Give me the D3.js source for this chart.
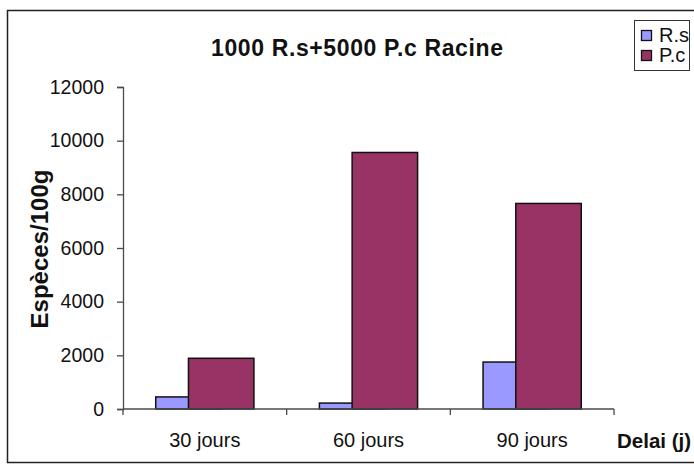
<!DOCTYPE html>
<html>
<head>
<meta charset="utf-8">
<script src="https://cdn.jsdelivr.net/npm/d3@7"></script>
<style>
  html, body { margin: 0; padding: 0; background: #fff; }
  svg { display: block; font-family: "Liberation Sans", Arial, sans-serif; }
</style>
</head>
<body>
<svg id="chart" width="694" height="466"></svg>
<script>
// Chart data
const categories = ["30 jours", "60 jours", "90 jours"];
const seriesNames = ["R.s", "P.c"];
const rsValues = [450, 220, 1750];
const pcValues = [1890, 9560, 7660];
const yTicks = [0, 2000, 4000, 6000, 8000, 10000, 12000];
const colors = { "R.s": "#9999FF", "P.c": "#993366" };

const svg = d3.select("#chart");
const ink = "#111";
const axisColor = "#4a4a4a";

// Outer chart frame
svg.append("rect")
  .attr("x", 7.5).attr("y", 10.5)
  .attr("width", 700).attr("height", 452)
  .attr("fill", "none").attr("stroke", "#222").attr("stroke-width", 1.5);

const plot = { left: 123, right: 614, top: 87, bottom: 409 };

const x = d3.scaleBand().domain(categories)
  .range([plot.left, plot.right]).padding(0);
const y = d3.scaleLinear().domain([0, 12000])
  .range([plot.bottom, plot.top]);

// Bars: gap width 100%, overlap 50%
const w = x.bandwidth() / 2.5;
const series = [
  { name: "R.s", values: rsValues, offset: w / 2 },
  { name: "P.c", values: pcValues, offset: w }
];

series.forEach(s => {
  svg.append("g").selectAll("rect")
    .data(categories.map((c, i) => ({ c, v: s.values[i] })))
    .join("rect")
    .attr("x", d => x(d.c) + s.offset)
    .attr("y", d => y(d.v))
    .attr("width", w)
    .attr("height", d => y(0) - y(d.v))
    .attr("fill", colors[s.name])
    .attr("stroke", ink)
    .attr("stroke-width", 1.5);
});

// Y axis
const yAxis = svg.append("g")
  .attr("transform", `translate(${plot.left},0)`)
  .call(d3.axisLeft(y).tickValues(yTicks).tickSize(6).tickPadding(13)
    .tickFormat(d3.format("d")));
yAxis.select(".domain").attr("stroke", axisColor).attr("stroke-width", 1.3);
yAxis.selectAll(".tick line").attr("stroke", axisColor).attr("stroke-width", 1.3);
yAxis.selectAll(".tick text")
  .attr("font-size", 19.5).attr("fill", ink)
  .attr("font-family", "Liberation Sans, Arial, sans-serif");

// X axis with ticks on category boundaries
const xAxis = svg.append("g")
  .attr("transform", `translate(0,${plot.bottom})`);
xAxis.append("line")
  .attr("x1", plot.left).attr("x2", plot.right)
  .attr("stroke", axisColor).attr("stroke-width", 1.3);
const bounds = categories.map(c => x(c)).concat([x(categories[categories.length - 1]) + x.bandwidth()]);
xAxis.selectAll("line.tk").data(bounds).join("line")
  .attr("class", "tk")
  .attr("x1", d => d).attr("x2", d => d)
  .attr("y1", 0).attr("y2", 6)
  .attr("stroke", axisColor).attr("stroke-width", 1.3);
xAxis.selectAll("text").data(categories).join("text")
  .attr("x", d => x(d) + x.bandwidth() / 2)
  .attr("y", 38)
  .attr("text-anchor", "middle")
  .attr("font-size", 20)
  .attr("fill", ink)
  .text(d => d);

// Title
svg.append("text")
  .attr("x", 357).attr("y", 56)
  .attr("text-anchor", "middle")
  .attr("font-size", 23).attr("font-weight", "bold")
  .attr("textLength", 292).attr("lengthAdjust", "spacing")
  .attr("fill", ink)
  .text("1000 R.s+5000 P.c Racine");

// Y axis title
svg.append("text")
  .attr("transform", "translate(48,249) rotate(-90)")
  .attr("text-anchor", "middle")
  .attr("font-size", 24).attr("font-weight", "bold")
  .attr("fill", ink)
  .text("Espèces/100g");

// X axis title
svg.append("text")
  .attr("x", 617).attr("y", 448)
  .attr("font-size", 20.5).attr("font-weight", "bold")
  .attr("fill", ink)
  .text("Delai (j)");

// Legend
const lg = svg.append("g");
lg.append("rect")
  .attr("x", 634.5).attr("y", 20.5)
  .attr("width", 55).attr("height", 50)
  .attr("fill", "#fff").attr("stroke", "#333").attr("stroke-width", 1);
seriesNames.forEach((n, i) => {
  lg.append("rect")
    .attr("x", 641.5).attr("y", 30.5 + i * 20)
    .attr("width", 10).attr("height", 10)
    .attr("fill", colors[n]).attr("stroke", ink).attr("stroke-width", 1.3);
  lg.append("text")
    .attr("x", 659).attr("y", 42 + i * 20)
    .attr("font-size", 20)
    .attr("fill", ink)
    .text(n);
});
</script>
</body>
</html>
